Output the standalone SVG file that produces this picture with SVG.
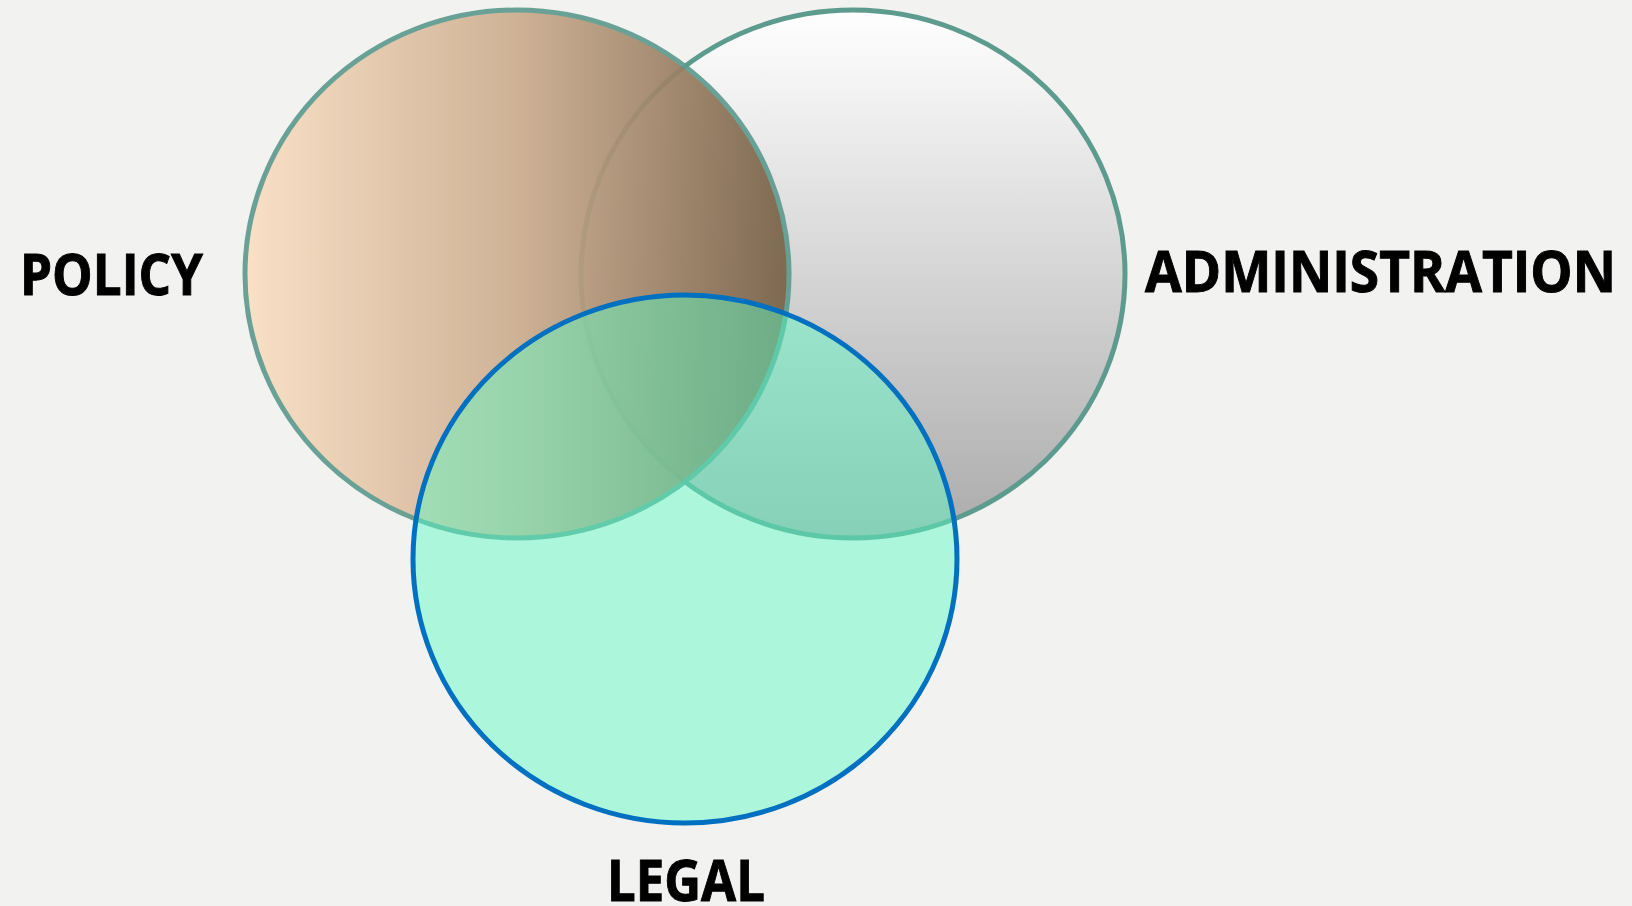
<svg xmlns="http://www.w3.org/2000/svg" width="1632" height="906" viewBox="0 0 1632 906">
<defs>
<linearGradient id="gPolicy" x1="0" y1="0" x2="1" y2="0">
<stop offset="0" stop-color="#FADFC3"/>
<stop offset="0.5" stop-color="#CCAD8F"/>
<stop offset="1" stop-color="#776046"/>
</linearGradient>
<linearGradient id="gAdmin" x1="0" y1="0" x2="0" y2="1">
<stop offset="0" stop-color="#FFFFFF"/>
<stop offset="1" stop-color="#ABABAB"/>
</linearGradient>
<style>
.ring{stroke:#5E9B8F;stroke-width:5}
.lbl{font-family:"Open Sans","Noto Sans","Liberation Sans",sans-serif;font-weight:bold;font-size:57px;fill:#000;stroke:#000;stroke-width:1}
</style>
</defs>
<rect width="1632" height="906" fill="#F2F2F0"/>
<g id="administration">
<ellipse cx="853" cy="274" rx="272" ry="264" fill="url(#gAdmin)" class="ring"/>
</g>
<g id="policy" opacity="0.92">
<ellipse cx="517" cy="274" rx="272" ry="264" fill="url(#gPolicy)" class="ring"/>
</g>
<g id="legal">
<ellipse cx="685" cy="559" rx="272" ry="264" fill="#5AFDC4" fill-opacity="0.46" stroke="#0070C0" stroke-width="5"/>
</g>
<g id="labels">
<text class="lbl" x="20" y="295" textLength="183" lengthAdjust="spacingAndGlyphs">POLICY</text>
<text class="lbl" x="1145" y="292" textLength="471" lengthAdjust="spacingAndGlyphs">ADMINISTRATION</text>
<text class="lbl" x="607" y="901" textLength="158" lengthAdjust="spacingAndGlyphs">LEGAL</text>
</g>
</svg>
